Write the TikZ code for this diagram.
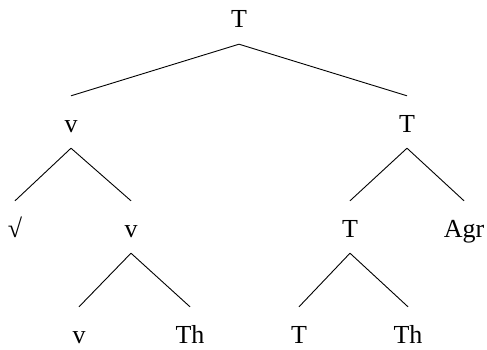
\documentclass[tikz,border=0pt]{standalone}
\usepackage{fontspec}
\setmainfont{Liberation Serif}
\begin{document}
\begin{tikzpicture}[x=1pt,y=1pt,
  lab/.style={anchor=base,inner xsep=0pt,inner ysep=16pt,text height=20pt,text depth=0pt,font=\fontsize{26}{30}\selectfont},
  br/.style={draw,line width=0.9pt}]
\useasboundingbox (0,0) rectangle (487,-350);
\node[lab] (t0) at (239,-28) {T};
\node[lab] (v1) at (71,-132) {v};
\node[lab] (t1) at (407,-132) {T};
\node[lab] (rt) at (15,-237) {√};
\node[lab] (v2) at (131,-237) {v};
\node[lab] (t2) at (350,-237) {T};
\node[lab] (agr) at (464,-237) {Agr};
\node[lab] (v3) at (79,-343) {v};
\node[lab] (th1) at (190,-343) {Th};
\node[lab] (t3) at (299,-343) {T};
\node[lab] (th2) at (408,-343) {Th};
\path[br] (t0.south) -- (v1.north);
\path[br] (t0.south) -- (t1.north);
\path[br] (v1.south) -- (rt.north);
\path[br] (v1.south) -- (v2.north);
\path[br] (t1.south) -- (t2.north);
\path[br] (t1.south) -- (agr.north);
\path[br] (v2.south) -- (v3.north);
\path[br] (v2.south) -- (th1.north);
\path[br] (t2.south) -- (t3.north);
\path[br] (t2.south) -- (th2.north);
\end{tikzpicture}
\end{document}
